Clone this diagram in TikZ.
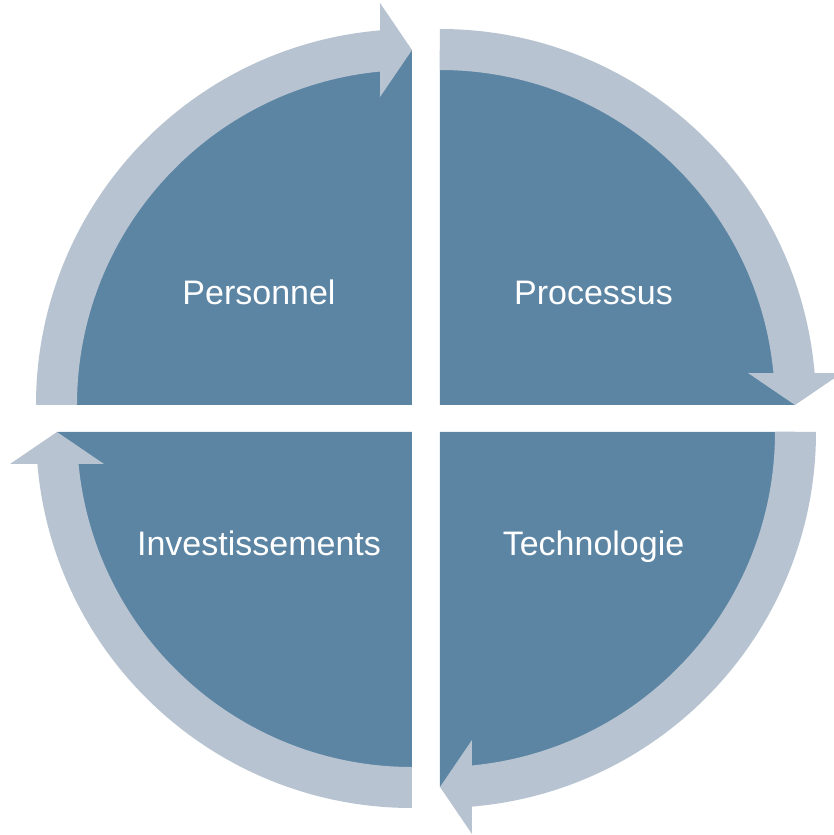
\documentclass[tikz,border=0pt]{standalone}
\usepackage{fontspec}
\setmainfont{Liberation Sans}
\usepackage{tikz}
\definecolor{mblue}{RGB}{92, 133, 164}
\definecolor{mgrey}{RGB}{183, 195, 208}

\begin{document}
\begin{tikzpicture}[x=1pt, y=1pt,
    quarter/.style={fill=mblue},
    band/.style={fill=mgrey},
    label/.style={text=white, anchor=base, font=\fontsize{34}{40}\selectfont}]
    \useasboundingbox (-426, -416.5) rectangle (408, 418.5);

    \foreach \cx/\cy/\rot in {-14/13.5/0, 14/13.5/-90, 14/-13.5/-180, -14/-13.5/-270} {
      \begin{scope}[shift={(\cx, \cy)}, rotate=\rot]
        \fill [quarter] (0, 0) -- (180:355) arc[start angle=180, end angle=90, radius=355] -- cycle;
        \fill [band] (180:376) arc[start angle=180, end angle=94.88, radius=376] -- (-32, 402) -- (0, 355) -- (-32, 308) -- (95.48:335) arc[start angle=95.48, end angle=180, radius=335] -- cycle;
      \end{scope}
    }

    \node [label] (personnel) at (-167, 113.5) {Personnel};
    \node [label] (processus) at (167.5, 113.5) {Processus};
    \node [label] (investissements) at (-167, -136.5) {Investissements};
    \node [label] (technologie) at (167.5, -136.5) {Technologie};
  \end{tikzpicture}
\end{document}
